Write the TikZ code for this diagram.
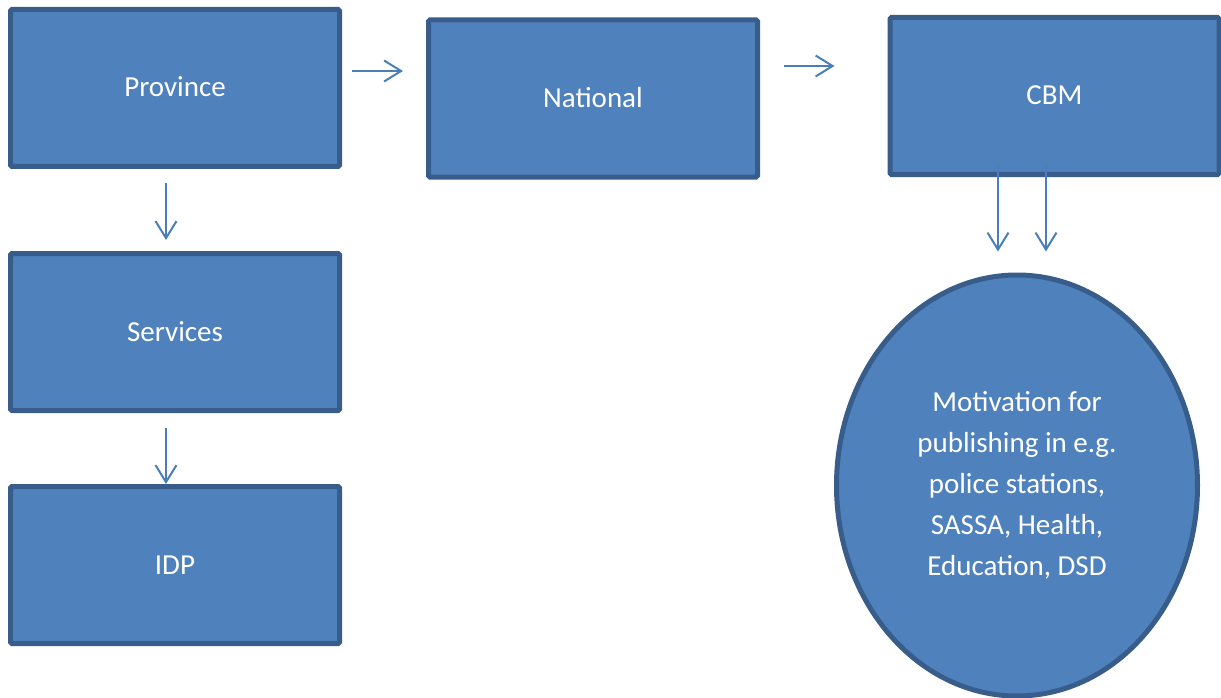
\documentclass[tikz,border=0pt]{standalone}
\usepackage{fontspec}
\setmainfont{Carlito}
\usetikzlibrary{arrows.meta,shapes.geometric}
\definecolor{boxfill}{HTML}{4F81BD}
\definecolor{boxline}{HTML}{385D8A}
\definecolor{arrcol}{HTML}{4A7EBB}
\begin{document}
\begin{tikzpicture}[x=1pt,y=-1pt,
  box/.style={draw=boxline,fill=boxfill,line width=5pt,rounded corners=1.5pt,
    minimum width=329pt,minimum height=157pt,inner sep=0pt,text=white,
    font=\fontsize{29}{41}\selectfont,text height=18pt,text depth=0pt},
  oval/.style={ellipse,draw=boxline,fill=boxfill,line width=5pt,
    minimum width=361pt,minimum height=421pt,inner sep=0pt,text=white,
    align=center,font=\fontsize{29}{41}\selectfont},
  arr/.style={draw=arrcol,line width=2pt,-{Straight Barb[length=17pt,width=21pt,line width=2pt]}}]
\useasboundingbox (0,0) rectangle (1221,698);
\node[box] (prov) at (175,88) {Province};
\node[box] (nat) at (593,98.5) {National};
\node[box] (cbm) at (1054.5,96) {CBM};
\node[box] (serv) at (175,332) {Services};
\node[box] (idp) at (175,565) {IDP};
\node[oval] (mot) at (1017,485.5) {Motivation for\\publishing in e.g.\\police stations,\\SASSA, Health,\\Education, DSD};
% connector end points
\coordinate (pa) at ([xshift=10pt,yshift=17pt]prov.east);
\coordinate (na) at ([xshift=23.5pt,yshift=32.5pt]nat.east);
\coordinate (ps) at ([xshift=-9pt]prov.south);
\coordinate (ss) at ([xshift=-9pt]serv.south);
\coordinate (cb1) at ([xshift=-56.5pt,yshift=11pt]cbm.south);
\coordinate (cb2) at ([xshift=-8.5pt,yshift=11pt]cbm.south);
\coordinate (mt) at ([yshift=21pt]mot.north);
\draw[arr,shorten >=23pt] (pa) -- (pa -| nat.west);
\draw[arr,shorten >=53pt] (na) -- (na -| cbm.west);
\draw[arr,shorten <=14pt,shorten >=11pt] (ps) -- (ps |- serv.north);
\draw[arr,shorten <=14.5pt] (ss) -- (ss |- idp.north);
\draw[arr] (cb1) -- (cb1 |- mt);
\draw[arr] (cb2) -- (cb2 |- mt);
\end{tikzpicture}
\end{document}
